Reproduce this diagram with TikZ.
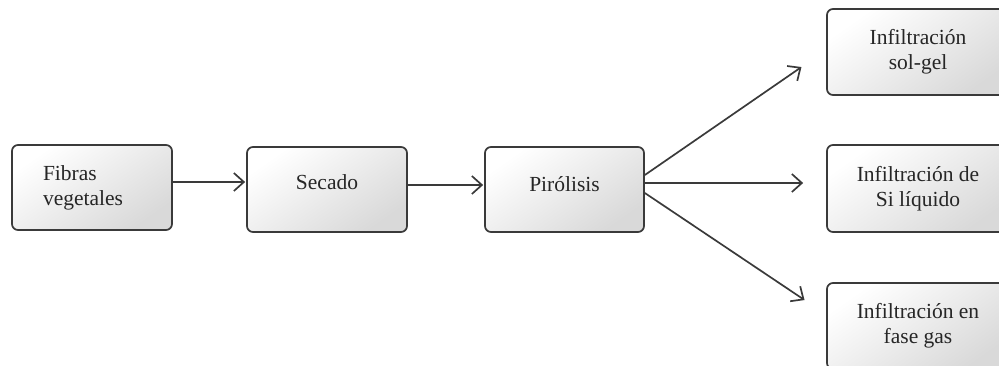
\documentclass[tikz,border=0pt]{standalone}
\usepackage{fontspec}
\setmainfont{Liberation Serif}
\usetikzlibrary{arrows.meta,shadows}
\definecolor{edge}{HTML}{3A3A3A}
\begin{document}
\begin{tikzpicture}[x=1pt,y=-1pt,
  box/.style={draw=edge, line width=1.7pt, rounded corners=6pt,
    shading=axis, top color=white, bottom color=gray!30, shading angle=35,
    minimum height=85pt, inner sep=0pt,
    font=\fontsize{21.5}{25}\selectfont, text=black!85, align=center},
  conn/.style={draw=edge, line width=1.7pt, -{Straight Barb[length=10pt,width=18pt,line width=1.7pt]}}]
\useasboundingbox (0,0) rectangle (999,365);
\begin{scope}
\clip (0,0) rectangle (999,365);
\node[box, minimum width=160pt, text width=98pt, align=left] (fib) at (92,187.5) {Fibras\\vegetales};
\node[box, minimum width=160pt, text depth=14pt] (sec) at (327,189.5) {Secado};
\node[box, minimum width=159pt, text depth=11pt] (pir) at (564.5,189.5) {Pirólisis};
\node[box, minimum width=182pt, minimum height=86pt] (sol) at (918,52) {Infiltración\\sol-gel};
\node[box, minimum width=182pt, minimum height=87pt] (liq) at (918,188.5) {Infiltración de\\Si líquido};
\node[box, minimum width=182pt, minimum height=86pt] (gas) at (918,326) {Infiltración en\\fase gas};
\end{scope}
\draw[conn, shorten >=1pt] ([yshift=5.5pt]fib.east) -- ([yshift=7.5pt]sec.west);
\draw[conn, shorten >=1pt] ([yshift=4.5pt]sec.east) -- ([yshift=4.5pt]pir.west);
\draw[conn, shorten >=30pt] ([yshift=14.5pt]pir.east) -- ([yshift=2pt]sol.west);
\draw[conn, shorten >=23pt] ([yshift=6.5pt]pir.east) -- ([yshift=5.5pt]liq.west);
\draw[conn, shorten >=26pt] ([yshift=-3.5pt]pir.east) -- ([yshift=11.5pt]gas.west);
\end{tikzpicture}
\end{document}
